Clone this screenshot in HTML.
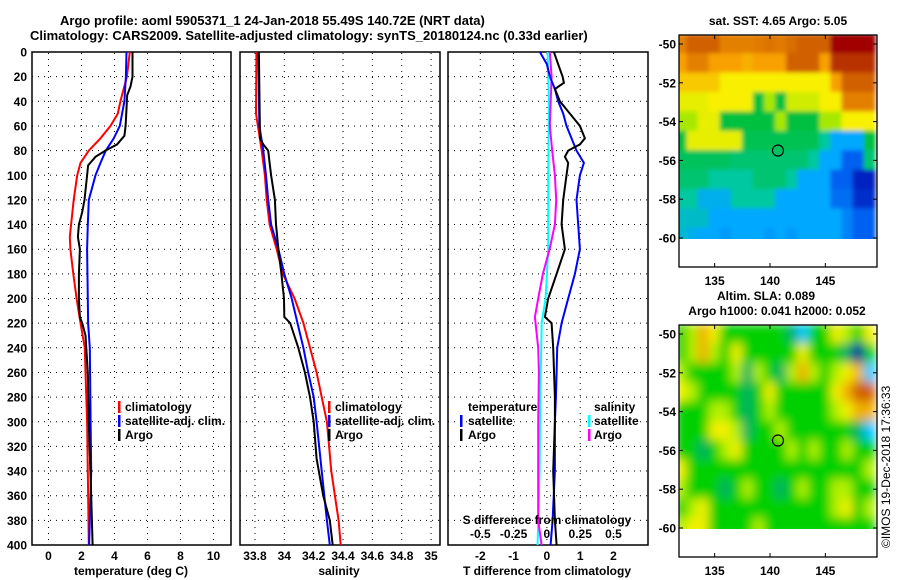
<!DOCTYPE html>
<html><head><meta charset="utf-8"><style>
html,body{margin:0;padding:0;background:#fff;}
svg{display:block;font-family:"Liberation Sans",sans-serif;font-weight:bold;}
</style></head><body>
<svg id="c" width="900" height="580" viewBox="0 0 900 580" xmlns="http://www.w3.org/2000/svg">
<defs>
<clipPath id="clipSST"><rect x="679" y="35" width="198" height="204"/></clipPath>
<clipPath id="clipSLA"><rect x="679" y="325" width="198" height="204"/></clipPath>
<filter id="blur" x="-10%" y="-10%" width="120%" height="120%"><feGaussianBlur stdDeviation="5"/></filter>
<filter id="blur2" x="-10%" y="-10%" width="120%" height="120%"><feGaussianBlur stdDeviation="2"/></filter>
<clipPath id="clipP1"><rect x="32" y="52" width="199" height="493"/></clipPath>
<clipPath id="clipP2"><rect x="240" y="52" width="200" height="493"/></clipPath>
<clipPath id="clipP3"><rect x="448" y="52" width="200" height="493"/></clipPath>
</defs>
<text x="60" y="25" font-size="13">Argo profile: aoml 5905371_1 24-Jan-2018 55.49S 140.72E (NRT data)</text>
<text x="30" y="40" font-size="13">Climatology: CARS2009. Satellite-adjusted climatology: synTS_20180124.nc (0.33d earlier)</text>
</svg>
<script>
// ---------- profile data ----------
const tempClimDepth=[0,20,40,50,60,70,80,90,100,120,140,150,160,180,200,220,240,260,300,340,400];
const tempClimVals=[4.93,4.75,4.36,4.2,3.76,3.15,2.44,1.94,1.74,1.53,1.37,1.29,1.33,1.5,1.7,1.94,2.2,2.24,2.34,2.38,2.44];
const tempSatDepth=[0,20,40,60,70,80,90,100,120,140,160,200,220,240,300,340,400];
const tempSatVals=[4.73,4.69,4.6,4.32,3.96,3.47,3.15,2.85,2.44,2.38,2.34,2.38,2.4,2.5,2.55,2.59,2.46];
const tempArgoDepth=[0,20,28,35,60,68,75,80,85,92,100,120,130,140,150,160,180,200,215,220,230,260,300,360,400];
const tempArgoVals=[5.09,5.09,4.97,4.77,4.67,4.6,4.16,3.45,2.85,2.4,2.34,2.18,2.04,1.84,1.78,1.9,1.84,1.84,1.9,2.04,2.24,2.38,2.44,2.59,2.67];

const salClimDepth=[0,50,80,100,120,140,160,180,200,220,240,260,280,300,340,360,380,400];
const salClimVals=[33.81,33.807,33.846,33.868,33.88,33.9,33.948,33.99,34.07,34.13,34.175,34.22,34.255,34.29,34.32,34.345,34.37,34.384];
const salSatDepth=[0,60,80,100,120,140,160,180,200,220,240,260,280,300,340,380,400];
const salSatVals=[33.822,33.83,33.857,33.875,33.89,33.91,33.96,34.0,34.05,34.09,34.13,34.163,34.2,34.22,34.255,34.29,34.31];
const salArgoDepth=[0,70,75,80,90,100,120,140,160,180,200,215,220,240,260,280,300,330,360,380,400];
const salArgoVals=[33.827,33.834,33.857,33.89,33.9,33.91,33.936,33.943,33.96,33.98,33.998,34.0,34.04,34.095,34.14,34.175,34.2,34.22,34.265,34.31,34.33];

const dTSatDepth=[0,10,20,30,40,50,60,70,80,90,100,120,140,160,180,200,220,240,260,280,300,340,380,400];
const dTSatVals=[-0.21,0,0.09,0.24,0.34,0.49,0.59,0.74,0.89,1.11,0.99,0.89,0.94,0.99,0.84,0.64,0.44,0.31,0.29,0.27,0.24,0.24,0.17,0.11];
const dTArgoDepth=[0,10,20,25,30,40,50,60,70,75,80,85,90,100,120,140,160,180,200,215,220,240,280,300,340,380,400];
const dTArgoVals=[0.21,0.34,0.47,0.51,0.24,0.39,0.69,0.99,1.14,0.99,0.64,0.54,0.64,0.59,0.49,0.44,0.54,0.29,0.04,-0.06,0.14,0.19,0.24,0.24,0.19,0.24,0.29];
const dSSatDepth=[0,40,100,160,180,200,220,240,280,340,400];
const dSSatVals=[0.005,0.015,0.01,0.01,0.0,-0.01,-0.04,-0.042,-0.05,-0.055,-0.07];
const dSArgoDepth=[0,20,60,80,100,120,140,160,180,200,215,240,260,300,380,400];
const dSArgoVals=[0.022,0.035,0.022,0.04,0.06,0.07,0.06,0.02,-0.03,-0.065,-0.09,-0.065,-0.06,-0.065,-0.065,-0.04];

const depthTicks=[0,20,40,60,80,100,120,140,160,180,200,220,240,260,280,300,320,340,360,380,400];
const tempTicks=[0,2,4,6,8,10];
const salTicks=[33.8,34,34.2,34.4,34.6,34.8,35];
const salTickLabels=["33.8","34","34.2","34.4","34.6","34.8","35"];
const dTTicks=[-2,-1,0,1,2];
const dSTicks=[-0.5,-0.25,0,0.25,0.5];
const dSTickLabels=["-0.5","-0.25","0","0.25","0.5"];

// ---------- map data (1-degree cells, lon 132..149, lat -50..-60) ----------
const mapLons=[132,133,134,135,136,137,138,139,140,141,142,143,144,145,146,147,148,149];
const mapLats=[-50,-51,-52,-53,-54,-55,-56,-57,-58,-59,-60];
const sstLevels=[
[8.5,9,9,9,8.5,8.5,8.5,8.6,8.7,8.6,8.8,9,9,9,10,10,10,10],
[8,8.5,8.5,8,8,8,7.8,8,8,8,9,9,9,8,9.5,9.5,9.5,9.5],
[7.5,7.5,7.5,7.5,7,7,7,7,7,7,7,7,7,7,8,9,9,9],
[6.8,6.8,6.8,7,7,7,7,5,6,5,6.5,6.5,6.5,7,7,8.5,8.5,8.5],
[6,6,6.8,6.8,5,5,5,5,5,6,5,5,5,6,6,7,7,7],
[5,6.8,6.8,6.8,6.8,6.8,4.8,4.8,4.8,4.8,4.8,4.8,4.8,4,3,3,3,5],
[4.7,4.7,4.7,4.7,4.7,4.5,4.5,4.5,4.5,4.5,4.5,4.5,4,3,3,2,2,4.5],
[4.5,4.5,4.5,4,4,4,4,4.5,4.5,4.5,4,3,3,3,2,2,1,1],
[4,4,3.2,3.2,3.2,4,4,4,4,3,3,3,3,3,2.2,2.2,1.2,1.2],
[3.6,3.6,3.6,3,3,3,3,3,3,3,3,3,3,3,3,2.5,2,2],
[3.5,3.2,3,3,2.8,3,3,3,2.8,3,2.8,3,3,3,3,2.5,2,2]];
const slaLevels=[
[4,5,7,6,4,4,4,4,4,4,3,2,4,4,6,5,4,6],
[4,5,7,5,4,6,4,4,4,4,4,6,4,4,4,3,0,4],
[5,4,4,4,4,5,3,5,4,3,5,7,5,4,5,6,7,2],
[6,5,4,4,4,4,3,4,6,4,4,4,4,4,6,7,8,8],
[4,4,4,5,5,4,3,4,5,4,4,4,4,4,5,6,7,7],
[4,4,4,6,6,5,3,4,4,5,4,4,4,4,4,4,3,2],
[4,4,3,4,5,6,4,4,4,4,5,4,5,4,4,5,4,4],
[6,4,4,4,4,4,4,4,4,4,4,4,4,4,4,4,4,5],
[5,4,4,4,3,4,5,4,4,3,4,5,4,4,5,5,4,4],
[4,5,6,4,4,4,4,4,4,4,4,4,4,4,5,6,4,5],
[5,6,6,4,4,4,4,5,4,4,4,4,4,4,4,4,4,4]];
const argoLon=140.72, argoLat=-55.49;
const mapLatTicks=[-50,-52,-54,-56,-58,-60];
const mapLonTicks=[135,140,145];

// ---------- drawing ----------
const svg=document.getElementById('c');
const NS='http://www.w3.org/2000/svg';
function mk(tag,attrs,parent){const e=document.createElementNS(NS,tag);for(const k in attrs)e.setAttribute(k,attrs[k]);(parent||svg).appendChild(e);return e;}
const yD=d=>52+d*1.2325;
const panels=[
 {x0:32,x1:231,v0:-1,v1:11.06,clip:'clipP1'},
 {x0:240,x1:440,v0:33.698,v1:35.061,clip:'clipP2'},
 {x0:448,x1:648,v0:-2.97,v1:3.036,clip:'clipP3'}];
function xf(p,v){return p.x0+(v-p.v0)/(p.v1-p.v0)*(p.x1-p.x0);}
const xT=v=>xf(panels[0],v), xS=v=>xf(panels[1],v), xDT=v=>xf(panels[2],v), xDS=v=>xf(panels[2],v*4);

panels.forEach((p,i)=>{
 const g=mk('g',{});
 
 
 depthTicks.forEach(d=>{if(d>0&&d<400){const l=mk('line',{x1:p.x0,x2:p.x1,y1:yD(d),y2:yD(d),stroke:'#000','stroke-width':1,'stroke-dasharray':'1 5'},g);
  }});
 const fr=mk('rect',{x:p.x0,y:52,width:p.x1-p.x0,height:493,fill:'none',stroke:'#000','stroke-width':1.5},g);
 
});
depthTicks.forEach(d=>{const t=mk('text',{x:27,y:yD(d)+4.5,'text-anchor':'end','font-size':12});t.textContent=d;
 });
function vgrid(p,vals,fn,labels,ly){vals.forEach((v,i)=>{const x=fn(v);
 const l=mk('line',{x1:x,x2:x,y1:53,y2:544,stroke:'#000','stroke-width':1,'stroke-dasharray':'1 5'});
 
 if(labels){const t=mk('text',{x:x,y:ly,'text-anchor':'middle','font-size':12});t.textContent=labels[i];
 }});}
vgrid(panels[0],tempTicks,xT,tempTicks.map(String),560);
vgrid(panels[1],salTicks,xS,salTickLabels,560);
vgrid(panels[2],dTTicks,xDT,dTTicks.map(String),560);
dSTicks.forEach((v,i)=>{const t=mk('text',{x:xDS(v),y:538,'text-anchor':'middle','font-size':12});t.textContent=dSTickLabels[i];
 });

function series(depths,vals,fn,color,clip,name){
 const pts=depths.map((d,i)=>fn(vals[i]).toFixed(1)+','+yD(d).toFixed(1)).join(' ');
 const e=mk('polyline',{points:pts,fill:'none',stroke:color,'stroke-width':2,'clip-path':'url(#'+clip+')'});
 
 
}
series(tempClimDepth,tempClimVals,xT,'#f00','clipP1','temp-climatology-line');
series(tempSatDepth,tempSatVals,xT,'#00f','clipP1','temp-satellite-line');
series(tempArgoDepth,tempArgoVals,xT,'#000','clipP1','temp-argo-line');
series(salClimDepth,salClimVals,xS,'#f00','clipP2','sal-climatology-line');
series(salSatDepth,salSatVals,xS,'#00f','clipP2','sal-satellite-line');
series(salArgoDepth,salArgoVals,xS,'#000','clipP2','sal-argo-line');
series(dSSatDepth,dSSatVals,xDS,'#00ffff','clipP3','sdiff-satellite-line');
series(dSArgoDepth,dSArgoVals,xDS,'#ff00ff','clipP3','sdiff-argo-line');
series(dTSatDepth,dTSatVals,xDT,'#00f','clipP3','tdiff-satellite-line');
series(dTArgoDepth,dTArgoVals,xDT,'#000','clipP3','tdiff-argo-line');

function label(x,y,txt,name,anchor,size){const t=mk('text',{x:x,y:y,'font-size':size||12,'text-anchor':anchor||'start'});t.textContent=txt;
 return t;}
function legend(mx,tx,y,color,txt,name){const r=mk('rect',{x:mx,y:y-10,width:2.5,height:12,fill:color});
 
 label(tx,y,txt,name);}
legend(118,125,411,'#f00','climatology','legend-climatology');
legend(118,125,425,'#00f','satellite-adj. clim.','legend-satellite-adj');
legend(118,125,439,'#000','Argo','legend-argo');
legend(328,335,411,'#f00','climatology','legend-sal-climatology');
legend(328,335,425,'#00f','satellite-adj. clim.','legend-sal-satellite-adj');
legend(328,335,439,'#000','Argo','legend-sal-argo');
label(468,411,'temperature','legend-temperature-heading');
legend(460,468,425,'#00f','satellite','legend-tdiff-satellite');
legend(460,468,439,'#000','Argo','legend-tdiff-argo');
label(594,411,'salinity','legend-salinity-heading');
legend(588,594,425,'#00ffff','satellite','legend-sdiff-satellite');
legend(588,594,439,'#ff00ff','Argo','legend-sdiff-argo');
label(547,524,'S difference from climatology','s-diff-axis-title','middle');
label(131,575,'temperature (deg C)','temperature-axis-title','middle');
label(339,575,'salinity','salinity-axis-title','middle');
label(547,575,'T difference from climatology','t-diff-axis-title','middle');

// ---------- maps ----------
const sstPal=['#000090','#0020c0','#0060f0','#00a8ff','#00c8a0','#00c040','#a8e800','#f8f000','#f8a000','#d06000','#a00000'];
const slaPal=['#0000a0','#0060ff','#00c8ff','#00b060','#00d000','#b0f000','#f0f000','#f0b000','#d06000'];
function hex(c){return [1,3,5].map(i=>parseInt(c.substr(i,2),16));}
function pal(p,v){v=Math.max(0,Math.min(p.length-1,v));const i=Math.floor(v),f=v-i;const a=hex(p[i]),b=hex(p[Math.min(i+1,p.length-1)]);
 return 'rgb('+a.map((x,k)=>Math.round(x+(b[k]-x)*f)).join(',')+')';}
const xLon=l=>770+(l-140)*11.07;
function drawMap(dy,levels,p,clip,name,filt){
 const g=mk('g',{'clip-path':'url(#'+clip+')'});
 
 const inner=mk('g',{filter:'url(#'+filt+')'},g);
 const yLat=l=>dy+44+(-50-l)*19.4;
 mapLats.forEach((lat,r)=>mapLons.forEach((lon,c)=>{
  const e=mk('rect',{x:xLon(lon-0.5)-0.5,y:yLat(lat+0.5)-0.5,width:12.1,height:20.4,fill:pal(p,levels[r][c])},inner);
  }));
 const fr=mk('rect',{x:679,y:dy+35,width:198,height:232,fill:'none',stroke:'#000','stroke-width':1.3});
 
 mapLatTicks.forEach(l=>{const y=yLat(l);
  mk('line',{x1:679,x2:683,y1:y,y2:y,stroke:'#000'});mk('line',{x1:873,x2:877,y1:y,y2:y,stroke:'#000'});
  label(676,y+4.5,String(l),'map-lat-tick-label','end');});
 mapLonTicks.forEach(l=>{const x=xLon(l);
  mk('line',{x1:x,x2:x,y1:dy+35,y2:dy+39,stroke:'#000'});mk('line',{x1:x,x2:x,y1:dy+263,y2:dy+267,stroke:'#000'});
  label(x,dy+285,String(l),'map-lon-tick-label','middle');});
 const c=mk('circle',{cx:xLon(argoLon),cy:yLat(argoLat),r:5.5,fill:'none',stroke:'#000','stroke-width':1.2});
 
}
drawMap(0,sstLevels,sstPal,'clipSST','sst-map','blur2');
drawMap(290,slaLevels,slaPal,'clipSLA','sla-map','blur');
label(778,25,'sat. SST: 4.65 Argo: 5.05','sst-map-title','middle');
label(766,300,'Altim. SLA: 0.089','sla-map-title','middle');
label(777,315,'Argo h1000: 0.041 h2000: 0.052','sla-map-subtitle','middle');
const cr=label(0,0,'©IMOS 19-Dec-2018 17:36:33','imos-timestamp','start',12);
cr.setAttribute('font-weight','normal');
cr.setAttribute('transform','translate(890,548) rotate(-90)');
</script>
</body></html>
